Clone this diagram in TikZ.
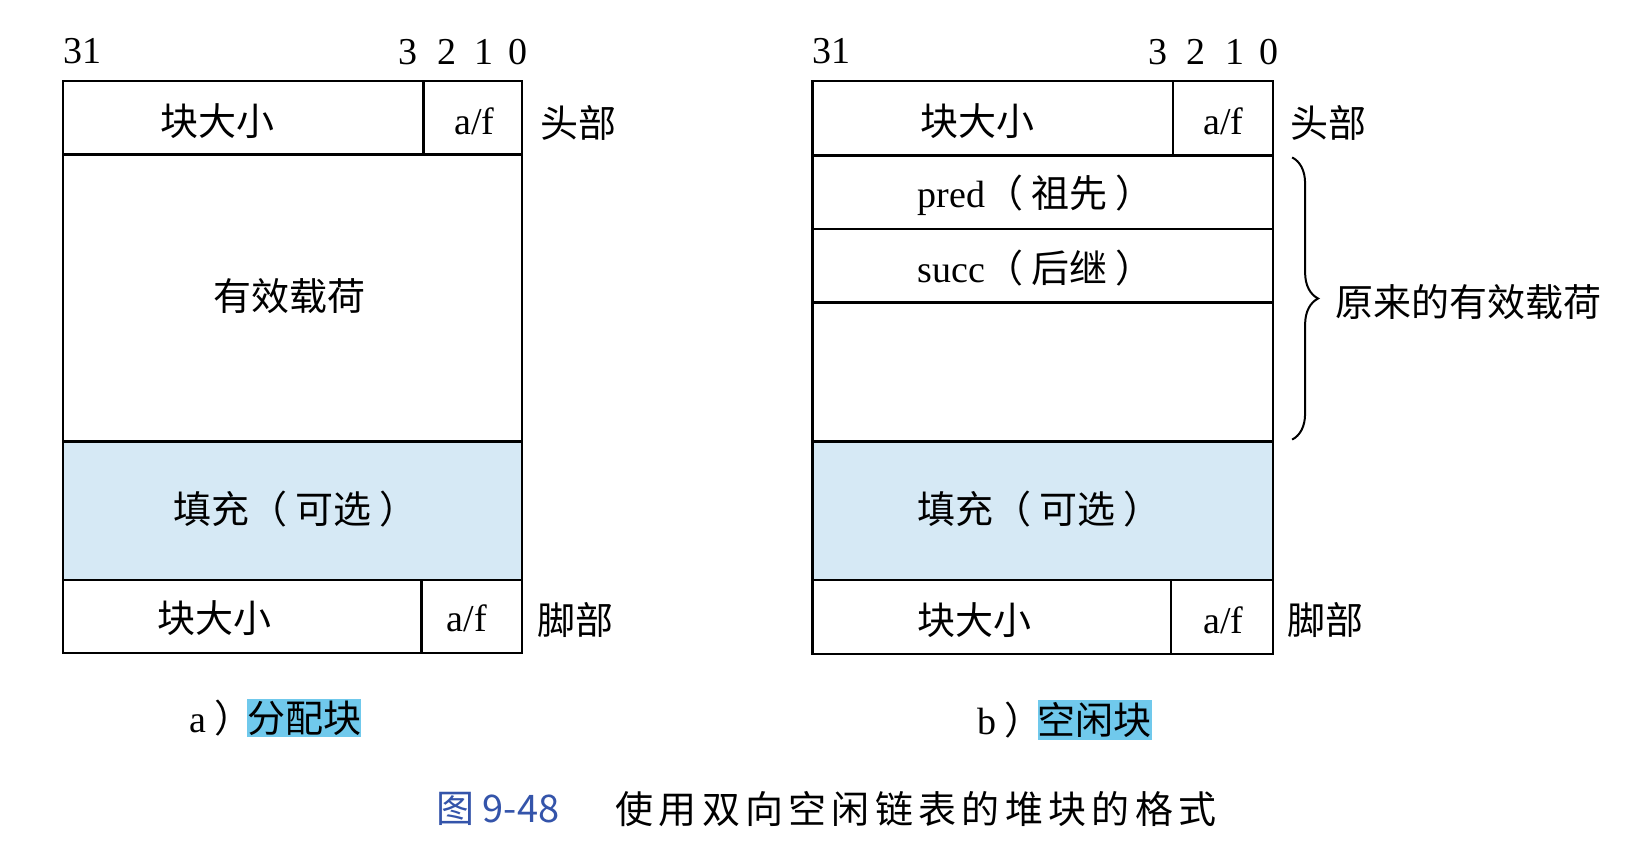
\documentclass[tikz,border=0pt]{standalone}
\usepackage{fontspec}
\setmainfont{Liberation Serif}
\newfontfamily\cjk{Noto Sans CJK SC}
\newfontfamily\cjkcap[LetterSpace=14]{Noto Sans CJK SC}
\usetikzlibrary{fit,positioning,decorations.pathreplacing}

\definecolor{padblue}{RGB}{214,233,245}
\definecolor{markblue}{RGB}{112,201,236}
\definecolor{figblue}{RGB}{52,84,170}

\newcommand{\lpar}{（\hspace{4pt}}
\newcommand{\rpar}{\hspace{4pt}）}

\tikzstyle{every node}=[inner sep=0pt,font=\fontsize{19}{22}\selectfont]
\tikzstyle{cell}=[draw, line width=1.1pt]
\tikzstyle{padcell}=[cell, fill=padblue]
\tikzstyle{txt}=[anchor=west]
\tikzstyle{hilite}=[fill=markblue, inner ysep=1pt]
\tikzstyle{brace}=[decorate, decoration={brace, amplitude=13pt}, line width=1pt]

\begin{document}
\begin{tikzpicture}[x=0.5pt,y=-0.5pt]
\useasboundingbox (0,0) rectangle (1648,862);

\node [cell, fit={(63,81) (423.5,154.5)}] (ahsize) {};
\node [cell, fit={(423.5,81) (522,154.5)}] (ahaf) {};
\node [cell, fit={(63,154.5) (522,441.5)}] (aload) {};
\node [padcell, fit={(63,441.5) (522,580)}] (apad) {};
\node [cell, fit={(63,580) (421.5,653)}] (afsize) {};
\node [cell, fit={(421.5,580) (522,653)}] (afaf) {};

\node [txt] at (63,51) (a31) {31};
\node at (408,52) (a3) {3};
\node at (447,52) (a2) {2};
\node at (483.5,52) (a1) {1};
\node at (518,52) (a0) {0};

\node [txt] at (160,121) (ahsizet) {\cjk 块大小};
\node [txt] at (454,121) (ahaft) {a/f};
\node [txt] at (540,123) (ahead) {\cjk 头部};
\node [txt] at (213,296) (aloadt) {\cjk 有效载荷};
\node [txt] at (173.5,509) (apadt) {\cjk 填充\lpar 可选\rpar};
\node [txt] at (157.5,618) (afsizet) {\cjk 块大小};
\node [txt] at (446.5,618) (afaft) {a/f};
\node [txt] at (537,620) (afoot) {\cjk 脚部};

\node [txt] at (189,718) (acap) {a\hspace{4pt}\cjk ）};
\node [hilite, right=-3pt of acap] (amark) {\cjk 分配块};

\node [cell, fit={(812.5,81) (1173,155.5)}] (bhsize) {};
\node [cell, fit={(1173,81) (1273,155.5)}] (bhaf) {};
\node [cell, fit={(812.5,155.5) (1273,229)}] (bpred) {};
\node [cell, fit={(812.5,229) (1273,302.5)}] (bsucc) {};
\node [cell, fit={(812.5,302.5) (1273,441.5)}] (bload) {};
\node [padcell, fit={(812.5,441.5) (1273,580)}] (bpad) {};
\node [cell, fit={(812.5,580) (1171,654)}] (bfsize) {};
\node [cell, fit={(1171,580) (1273,654)}] (bfaf) {};

\node [txt] at (812.5,51) (b31) {31};
\node at (1158,52) (b3) {3};
\node at (1196,52) (b2) {2};
\node at (1235,52) (b1) {1};
\node at (1268.5,52) (b0) {0};

\node [txt] at (920.5,121) (bhsizet) {\cjk 块大小};
\node [txt] at (1203,121) (bhaft) {a/f};
\node [txt] at (1290.5,123) (bhead) {\cjk 头部};
\node [txt] at (917.5,195.5) (bpredt) {pred\cjk \lpar 祖先\rpar};
\node [txt] at (917.5,268) (bsucct) {succ\cjk \lpar 后继\rpar};
\node [txt] at (917.5,509) (bpadt) {\cjk 填充\lpar 可选\rpar};
\node [txt] at (917.5,620) (bfsizet) {\cjk 块大小};
\node [txt] at (1203,620) (bfaft) {a/f};
\node [txt] at (1287.5,620) (bfoot) {\cjk 脚部};

\draw [brace] ([xshift=9pt,yshift=-1.5pt]bpred.north east) -- ([xshift=9pt,yshift=1.5pt]bload.south east);
\node [txt] at (1335,302) (oldload) {\cjk 原来的有效载荷};

\node [txt] at (977.5,720) (bcap) {b\hspace{4pt}\cjk ）};
\node [hilite, right=-3pt of bcap] (bmark) {\cjk 空闲块};

\node [txt, text=figblue] at (436,809) (fignum) {\cjk 图 9-48};
\node [txt] at (615,809) (figtitle) {\cjkcap 使用双向空闲链表的堆块的格式};

\end{tikzpicture}
\end{document}
